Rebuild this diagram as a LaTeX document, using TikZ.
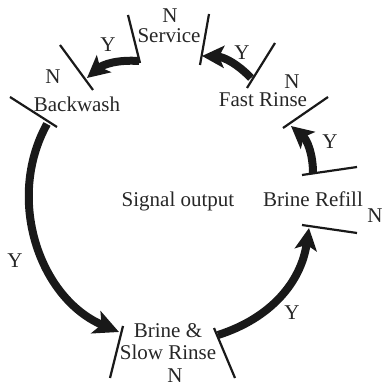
\documentclass[tikz,border=0pt]{standalone}
\usepackage{fontspec}
\setmainfont{Liberation Serif}
\usetikzlibrary{arrows.meta}
\begin{document}
\begin{tikzpicture}[x=0.5pt,y=0.5pt,
  lbl/.style={font=\fontsize{10.5}{12}\selectfont, inner sep=0pt, text=black!85},
  tick/.style={line width=1.1pt, black!90},
  flow/.style={line width=4pt, black!90, -{Stealth[length=11pt,width=11pt,inset=2.5pt]}}]
\useasboundingbox (0,0) rectangle (385,386);
% labels
\node[lbl] (nserv) at (170,370) {N};
\node[lbl] (serv) at (169,350) {Service};
\node[lbl] (y1) at (108,341) {Y};
\node[lbl] (nback) at (53,309) {N};
\node[lbl] (back) at (77,282) {Backwash};
\node[lbl] (y5) at (242,333) {Y};
\node[lbl] (nfast) at (292,304) {N};
\node[lbl] (fast) at (263,286) {Fast Rinse};
\node[lbl] (y4) at (330,244) {Y};
\node[lbl] (refill) at (313,187) {Brine Refill};
\node[lbl] (nrefill) at (375,170) {N};
\node[lbl] (sig) at (178,185) {Signal output};
\node[lbl] (y2) at (15,125) {Y};
\node[lbl] (y3) at (292,73) {Y};
\node[lbl, align=center] (brine) at (168,44) {Brine \&\\[-1pt]Slow Rinse};
\node[lbl] (nbrine) at (175,10) {N};
% tick end points
\coordinate (t1a) at (128,371); \coordinate (t1b) at (140,323);
\coordinate (t2a) at (60,341);  \coordinate (t2b) at (93,296);
\coordinate (t3a) at (10,289);  \coordinate (t3b) at (57,259);
\coordinate (t4a) at (123,60);  \coordinate (t4b) at (110,8);
\coordinate (t5a) at (214,58);  \coordinate (t5b) at (235,8);
\coordinate (t6a) at (302,161); \coordinate (t6b) at (357,153);
\coordinate (t7a) at (302,211); \coordinate (t7b) at (357,219);
\coordinate (t8a) at (328,289); \coordinate (t8b) at (283,258);
\coordinate (t9a) at (275,343); \coordinate (t9b) at (247,298);
\coordinate (t10a) at (209,372); \coordinate (t10b) at (200,321);
\foreach \i in {1,...,10} \draw[tick] (t\i a) -- (t\i b);
% arrow end points
\coordinate (a1s) at (139,325); \coordinate (a1e) at (87,308);
\coordinate (a2s) at (47,262);  \coordinate (a2e) at (119,54);
\coordinate (a3s) at (218,51);  \coordinate (a3e) at (309,158);
\coordinate (a4s) at (313,212); \coordinate (a4e) at (291,260);
\coordinate (a5s) at (251,308); \coordinate (a5e) at (202,330);
\draw[flow] (a1s) to[bend right=22] (a1e);
\draw[flow, -{Stealth[length=12.5pt,width=12pt,inset=3pt]}] (a2s) to[bend right=48] (a2e);
\draw[flow] (a3s) to[bend right=32] (a3e);
\draw[flow] (a4s) to[bend right=25] (a4e);
\draw[flow] (a5s) to[bend right=22] (a5e);
\end{tikzpicture}
\end{document}
